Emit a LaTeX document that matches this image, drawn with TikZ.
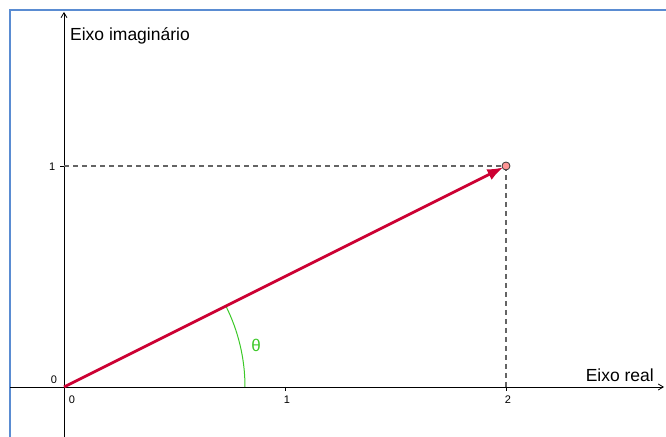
\documentclass[tikz,border=0pt]{standalone}
\usepackage{fontspec}
\setmainfont{Liberation Sans}
\usetikzlibrary{arrows.meta,calc}
\definecolor{vecred}{RGB}{204,0,51}
\definecolor{anggreen}{RGB}{60,200,40}
\definecolor{ptfill}{RGB}{255,150,150}
\definecolor{framblue}{RGB}{90,140,210}
\definecolor{dashgray}{RGB}{100,100,100}
\tikzset{
  axisline/.style={line width=0.8pt,-{Straight Barb[length=5pt,width=6pt]}},
  ticklab/.style={font=\fontsize{11}{13}\selectfont},
  axislab/.style={font=\fontsize{17.5}{20}\selectfont},
  guide/.style={dashgray,dashed,line width=1.2pt,dash pattern=on 5pt off 4pt}
}
\begin{document}
\begin{tikzpicture}[x=221pt,y=221pt]
  \useasboundingbox (-0.2896,-0.2262) rectangle (2.7240,1.7511);
  % moldura
  \draw[framblue,line width=1.5pt] (-0.2443,-0.2262) -- (-0.2443,1.7059) -- (2.7240,1.7059);
  % eixos
  \coordinate (O) at (0,0);
  \coordinate (P) at (2,1);
  \coordinate (P0) at (0,1);
  \coordinate (P1) at (2,0);
  \draw[axisline] (-0.2443,0) -- (2.715,0);
  \draw[axisline] (0,-0.2262) -- (0,1.697);
  \node[axislab,anchor=base west,inner sep=0pt] (imlab) at (0.027,1.570) {Eixo imaginário};
  \node[axislab,anchor=base east,inner sep=0pt] (relab) at (2.670,0.0226) {Eixo real};
  % marcas
  \foreach \k in {1,2}
    \draw[line width=0.6pt] (\k,0) -- (\k,-0.018);
  \draw[line width=0.6pt] (0,1) -- (-0.018,1);
  \node[ticklab] (z0) at (-0.045,0.032) {0};
  \node[ticklab] (x0) at (0.036,-0.059) {0};
  \node[ticklab] (x1) at (1.009,-0.059) {1};
  \node[ticklab] (x2) at (2.009,-0.059) {2};
  \node[ticklab] (y1) at (-0.054,0.995) {1};
  % linhas auxiliares
  \draw[guide] (P0) -- (P);
  \draw[guide] (P) -- (P1);
  % angulo
  \draw[anggreen,line width=1pt] (0.819,0) arc[start angle=0,end angle=26.565,radius=0.819];
  \node[anggreen,font=\fontsize{17}{20}\selectfont] (th) at (0.869,0.190) {θ};
  % vetor
  \draw[vecred,line width=2.8pt,-{Latex[length=16pt,width=12pt]},shorten >=3pt] (O) -- (P);
  \fill[ptfill,draw=black!80,line width=0.8pt] (P) circle (4pt);
\end{tikzpicture}
\end{document}
